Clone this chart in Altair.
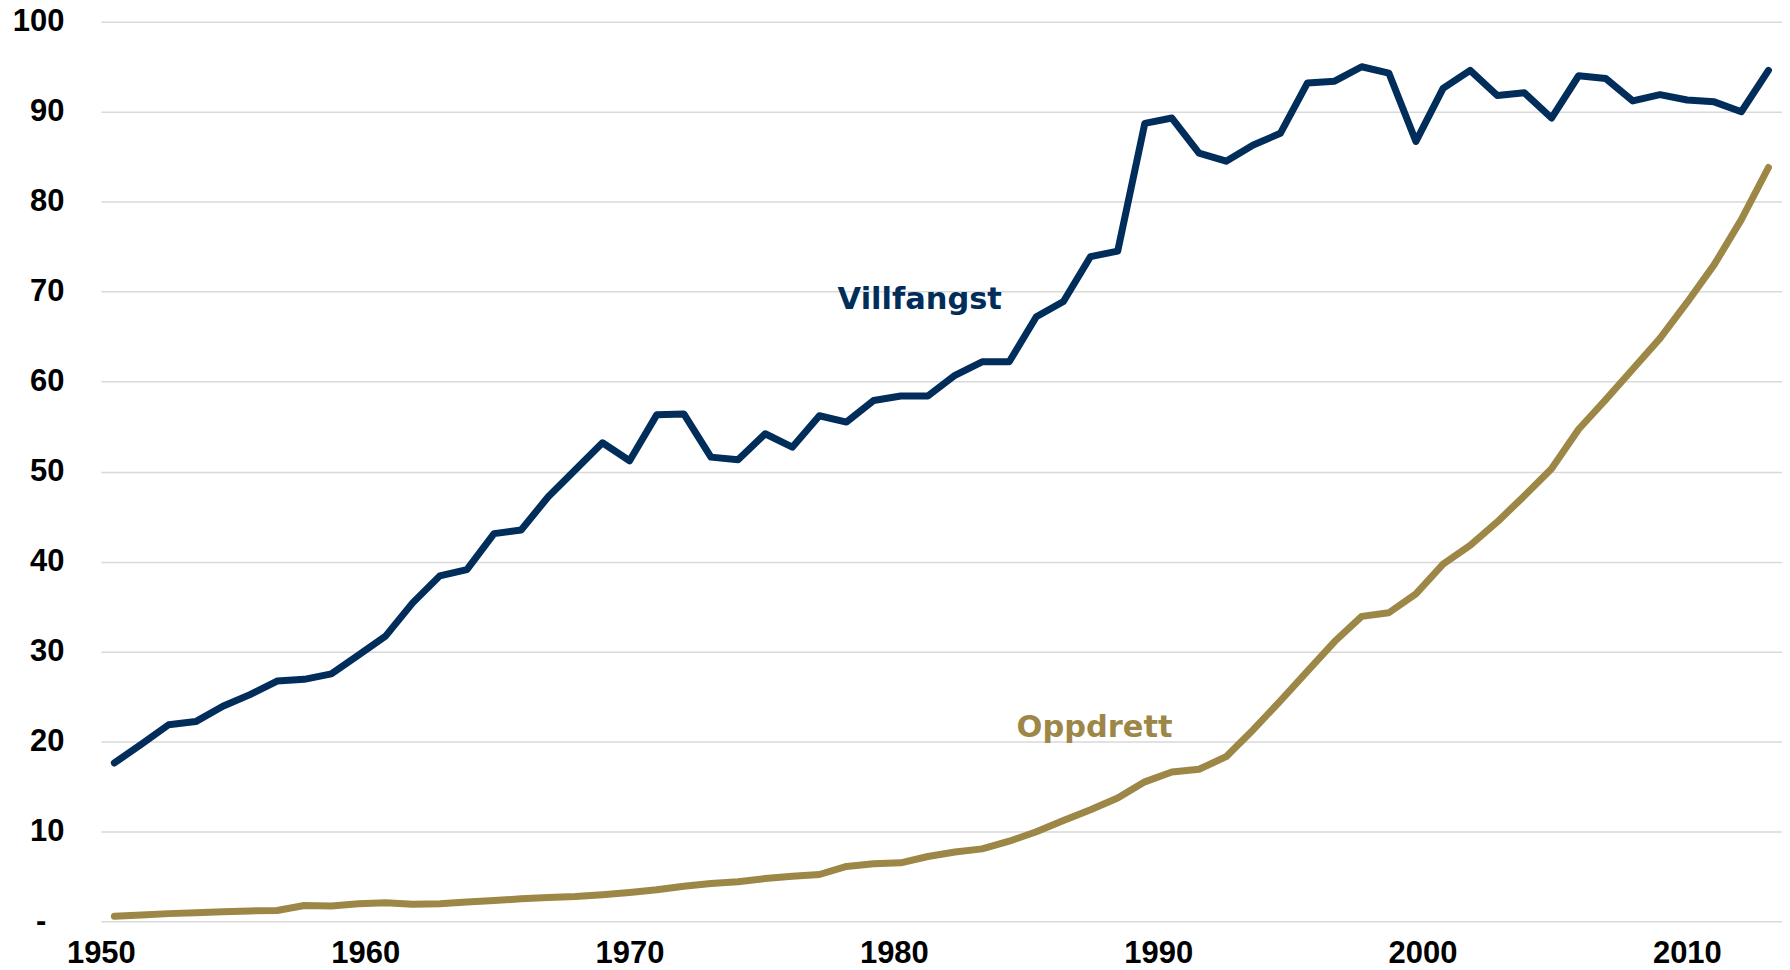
import altair as alt
import pandas as pd

years = list(range(1950, 2012))

villfangst = [
    17.6, 19.7, 21.85, 22.2, 23.9, 25.2, 26.7, 26.9, 27.5, 29.6,
    31.7, 35.4, 38.4, 39.1, 43.1, 43.5, 47.2, 50.2, 53.2, 51.2,
    56.3, 56.4, 51.6, 51.3, 54.2, 52.7, 56.2, 55.5, 57.9, 58.4,
    58.4, 60.7, 62.2, 62.2, 67.2, 68.9, 73.9, 74.5, 88.7, 89.3,
    85.4, 84.5, 86.3, 87.6, 93.2, 93.4, 95.0, 94.3, 86.7, 92.6,
    94.6, 91.8, 92.1, 89.3, 94.0, 93.7, 91.2, 91.9, 91.3, 91.1,
    90.0, 94.6,
]

oppdrett = [
    0.55, 0.7, 0.85, 0.95, 1.05, 1.15, 1.2, 1.75, 1.7, 1.95,
    2.05, 1.9, 1.95, 2.15, 2.3, 2.5, 2.65, 2.75, 2.95, 3.2,
    3.5, 3.9, 4.2, 4.4, 4.75, 5.0, 5.2, 6.1, 6.4, 6.5,
    7.2, 7.7, 8.05, 8.9, 9.95, 11.2, 12.4, 13.7, 15.5, 16.6,
    16.9, 18.3, 21.3, 24.5, 27.8, 31.1, 33.9, 34.3, 36.4, 39.7,
    41.8, 44.4, 47.3, 50.3, 54.7, 58.0, 61.4, 64.8, 68.8, 73.0,
    78.0, 83.8,
]

series_names = ["Villfangst", "Oppdrett"]
series_colors = ["#002D5A", "#9D8747"]

x_tick_years = [1950, 1960, 1970, 1980, 1990, 2000, 2010]
y_ticks = [0, 10, 20, 30, 40, 50, 60, 70, 80, 90, 100]

# annotation labels (placed in data coordinates)
label_text = ["Villfangst", "Oppdrett"]
label_x = [1979.7, 1986.15]
label_y = [68.1, 20.5]

rows = []
for yr, v, o in zip(years, villfangst, oppdrett):
    rows.append({"year": yr, "value": v, "serie": "Villfangst"})
    rows.append({"year": yr, "value": o, "serie": "Oppdrett"})
df = pd.DataFrame(rows)

lab_df = pd.DataFrame({"year": label_x, "value": label_y, "serie": label_text})
tick_df = pd.DataFrame({"tick": x_tick_years})

color_scale = alt.Scale(domain=series_names, range=series_colors)

y_enc = alt.Y(
    "value:Q",
    scale=alt.Scale(domain=[0, 100], nice=False),
    axis=alt.Axis(
        values=y_ticks,
        title=None,
        grid=True,
        gridColor="#D9D9D9",
        gridWidth=1.5,
        domain=False,
        ticks=False,
        labelFont="Liberation Sans",
        labelFontWeight="bold",
        labelFontSize=31,
        labelColor="#000000",
        labelPadding={"condition": {"test": "datum.value == 0", "value": 55}, "value": 37},
        labelBaseline="middle",
        labelExpr="datum.value == 0 ? '-' : datum.label",
    ),
)

data_x = alt.X(
    "year:Q",
    scale=alt.Scale(domain=[1949.5, 2011.5], nice=False, zero=False),
    axis=None,
)

lines = alt.Chart(df).mark_line(
    strokeWidth=7, strokeCap="round", strokeJoin="round"
).encode(
    x=data_x,
    y=y_enc,
    color=alt.Color("serie:N", scale=color_scale, legend=None),
    detail="serie:N",
)

labels = alt.Chart(lab_df).mark_text(
    font="DejaVu Sans",
    fontWeight="bold",
    fontSize=30.5,
    align="center",
    baseline="alphabetic",
).encode(
    x=data_x,
    y=alt.Y("value:Q"),
    text="serie:N",
    color=alt.Color("serie:N", scale=color_scale, legend=None),
)

# the year axis of the reference runs on its own (date-like) scale
tick_axis = alt.Chart(tick_df).mark_point(opacity=0).encode(
    x=alt.X(
        "tick:Q",
        scale=alt.Scale(domain=[1950, 2013.6], nice=False, zero=False),
        axis=alt.Axis(
            orient="bottom",
            values=x_tick_years,
            format="d",
            title=None,
            grid=False,
            domain=False,
            ticks=False,
            labelFont="Liberation Sans",
            labelFontWeight="bold",
            labelFontSize=31,
            labelColor="#000000",
            labelPadding=17,
            labelFlush=False,
            labelOverlap=False,
        ),
    ),
    y=alt.value(901),
)

chart = (
    alt.layer(lines, labels, tick_axis)
    .resolve_scale(x="independent")
    .properties(
        width=1684,
        height=901,
        autosize=alt.AutoSizeParams(type="none"),
        padding={"left": 93, "top": 13, "right": 0, "bottom": 49},
        background="#FFFFFF",
    )
    .configure_view(strokeWidth=0)
)

chart.save("out.html", embed_options={"renderer": "svg", "actions": False})
